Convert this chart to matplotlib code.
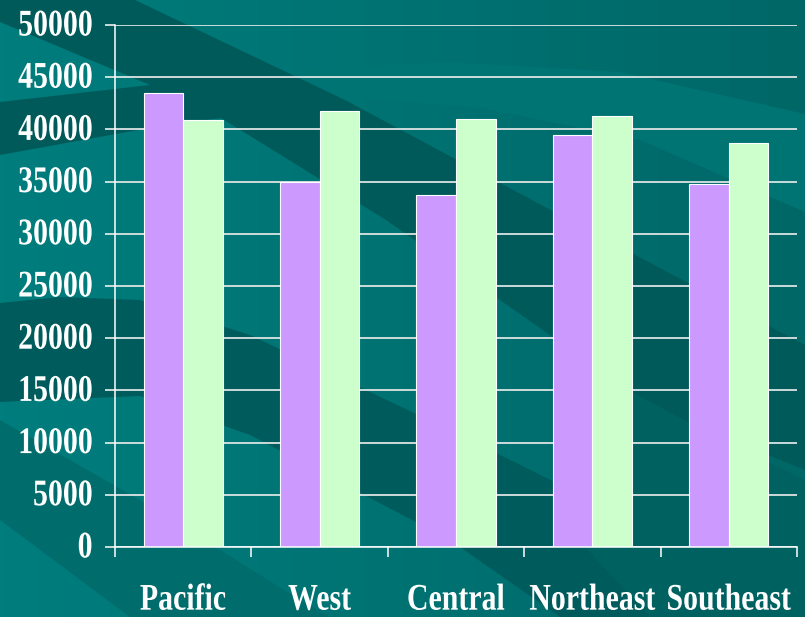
import matplotlib
matplotlib.use("Agg")
import matplotlib.pyplot as plt
import numpy as np
from matplotlib.patches import Polygon
from matplotlib.colors import LinearSegmentedColormap
from matplotlib.patheffects import AbstractPathEffect
from matplotlib.transforms import Affine2D

# datos
regiones = ["Pacific", "West", "Central", "Northeast", "Southeast"]
serie_morada = [43500, 35000, 33700, 39500, 34800]
serie_verde = [40900, 41800, 41000, 41300, 38700]
y_ticks = list(range(0, 50001, 5000))

plt.rcParams['font.family'] = ['Liberation Serif', 'DejaVu Serif']
plt.rcParams['font.weight'] = 'bold'


class Estirar(AbstractPathEffect):
    # estira el texto en vertical sobre su linea base (la letra del original es alargada)
    def __init__(self, sy):
        super().__init__()
        self.sy = sy

    def draw_path(self, renderer, gc, tpath, affine, rgbFace=None):
        renderer.draw_path(gc, tpath, Affine2D().scale(1, self.sy) + affine, rgbFace)


W, H = 805, 617
fig = plt.figure(figsize=(W / 100, H / 100), dpi=100)

# fondo: degradado turquesa con bandas diagonales (plantilla de diapositiva)
bg = fig.add_axes([0, 0, 1, 1], zorder=0)
bg.set_xlim(0, W)
bg.set_ylim(H, 0)
bg.axis('off')
cmap_bg = LinearSegmentedColormap.from_list('bg', ['#007d7d', '#006767'])
bg.imshow(np.linspace(0, 1, 256)[None, :], extent=[0, W, H, 0], cmap=cmap_bg, aspect='auto')

bandas = [
    # banda oscura superior
    ([(0, 0), (135, 0), (345, 100), (560, 215), (805, 345), (805, 470), (689, 423),
      (631, 392), (386, 220), (221, 118), (160, 126), (0, 155), (0, 102), (150, 85),
      (0, 22)], '#005a5a'),
    # brillo curvo arriba a la derecha
    ([(298, 69), (450, 62), (620, 72), (805, 114), (805, 212), (640, 140), (480, 108),
      (359, 98)], '#007373'),
    # banda oscura curva a la izquierda
    ([(0, 303), (60, 297), (140, 300), (250, 335), (450, 430), (631, 520), (720, 617),
      (560, 617), (450, 540), (250, 435), (140, 396), (0, 402)], '#005c5c'),
    # zona oscura abajo a la derecha
    ([(631, 392), (689, 423), (805, 480), (805, 617), (650, 617), (560, 520)], '#006161'),
    # banda media abajo a la izquierda
    ([(0, 420), (140, 500), (300, 600), (330, 617), (130, 617), (0, 520)], '#006c6c'),
]
for pts, col in bandas:
    bg.add_patch(Polygon(pts, closed=True, facecolor=col, edgecolor='none'))

# grafico de barras
ax = fig.add_axes([115 / W, 1 - 547 / H, (797 - 115) / W, (547 - 25) / H], zorder=1)
ax.patch.set_alpha(0)

x = np.arange(len(regiones))
ancho = 0.29
ax.bar(x - ancho / 2, serie_morada, ancho, color='#cc99ff', edgecolor='white', linewidth=0.8)
ax.bar(x + ancho / 2, serie_verde, ancho, color='#ccffcc', edgecolor='white', linewidth=0.8)

ax.set_xlim(-0.5, len(regiones) - 0.5)
ax.set_ylim(0, 50000)
ax.set_yticks(y_ticks)
ax.set_yticklabels([str(v) for v in y_ticks])
ax.yaxis.grid(True, color='#eeeeee', linewidth=1.2)
ax.set_axisbelow(True)

ax.set_xticks(x)
ax.set_xticklabels(regiones)
ax.set_xticks(np.arange(-0.5, len(regiones)), minor=True)
ax.tick_params(axis='x', which='major', length=0, pad=30, labelsize=21.5, labelcolor='white')
ax.tick_params(axis='x', which='minor', length=7.2, width=1.1, color='white', direction='out')
ax.tick_params(axis='y', length=7.2, width=1.2, color='#eeeeee', pad=9,
               labelsize=21.5, labelcolor='white')

for lbl in ax.get_xticklabels() + ax.get_yticklabels():
    lbl.set_path_effects([Estirar(1.26)])

for s in ['top', 'right']:
    ax.spines[s].set_visible(False)
for s in ['left', 'bottom']:
    ax.spines[s].set_color('white')
    ax.spines[s].set_linewidth(1.1)

fig.savefig("out.png", dpi=100)
